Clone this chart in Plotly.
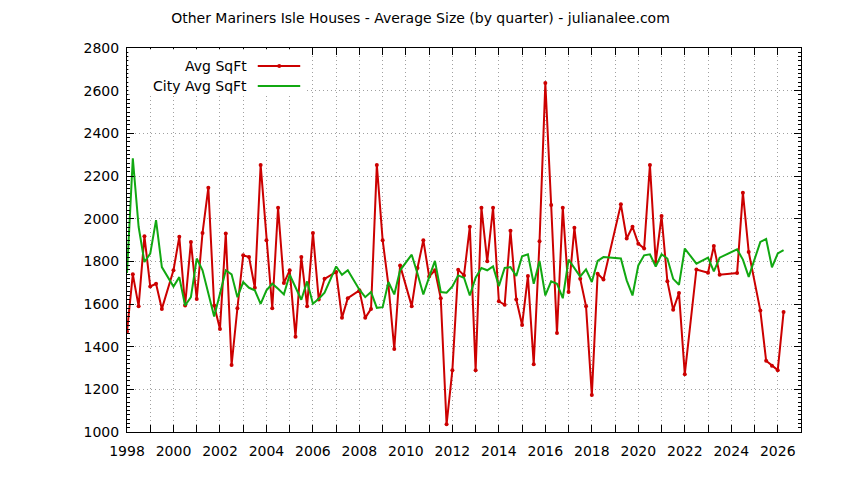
import plotly.graph_objects as go

# quarter start as decimal year (quarters with no sales are simply absent)
quarters = [
    1998.00, 1998.25, 1998.50, 1998.75, 1999.00, 1999.25, 1999.50,
    2000.00, 2000.25, 2000.50, 2000.75, 2001.00, 2001.25, 2001.50, 2001.75,
    2002.00, 2002.25, 2002.50, 2002.75, 2003.00, 2003.25, 2003.50, 2003.75,
    2004.00, 2004.25, 2004.50, 2004.75, 2005.00, 2005.25, 2005.50, 2005.75,
    2006.00, 2006.25, 2006.50, 2007.00, 2007.25, 2007.50,
    2008.00, 2008.25, 2008.50, 2008.75, 2009.00, 2009.25, 2009.50, 2009.75,
    2010.25, 2010.50, 2010.75, 2011.00, 2011.25, 2011.50, 2011.75,
    2012.00, 2012.25, 2012.50, 2012.75, 2013.00, 2013.25, 2013.50, 2013.75,
    2014.00, 2014.25, 2014.50, 2014.75, 2015.00, 2015.25, 2015.50, 2015.75,
    2016.00, 2016.25, 2016.50, 2016.75, 2017.00, 2017.25, 2017.50, 2017.75,
    2018.00, 2018.25, 2018.50, 2019.25, 2019.50, 2019.75,
    2020.00, 2020.25, 2020.50, 2020.75, 2021.00, 2021.25, 2021.50, 2021.75,
    2022.00, 2022.50, 2023.00, 2023.25, 2023.50, 2024.25, 2024.50, 2024.75,
    2025.25, 2025.50, 2025.75, 2026.00, 2026.25,
]

avg_sqft = [
    1471, 1739, 1590, 1918, 1682, 1695, 1577,
    1758, 1915, 1593, 1891, 1624, 1933, 2145, 1593,
    1483, 1930, 1314, 1580, 1828, 1820, 1676, 2252,
    1899, 1580, 2051, 1698, 1758, 1447, 1820, 1590,
    1933, 1621, 1718, 1750, 1535, 1627,
    1664, 1535, 1577, 2252, 1899, 1687, 1389, 1781,
    1590, 1769, 1899, 1729, 1758, 1627, 1036,
    1290, 1761, 1734, 1962, 1290, 2051, 1800, 2051,
    1613, 1596, 1943, 1621, 1502, 1731, 1318, 1894,
    2636, 2064, 1464, 2051, 1656, 1957, 1718, 1590,
    1173, 1742, 1715, 2067, 1907, 1962,
    1883, 1860, 2252, 1797, 2012, 1707, 1573, 1651,
    1271, 1762, 1747, 1872, 1737, 1745, 2122, 1844,
    1569, 1334, 1311, 1290, 1562,
]

city_avg_sqft = [
    1745, 2283, 1962, 1797, 1836, 1993, 1773,
    1682, 1726, 1593, 1632, 1813, 1758, 1648, 1541,
    1648, 1758, 1739, 1632, 1703, 1676, 1664, 1601,
    1664, 1695, 1671, 1645, 1737, 1679, 1620, 1706,
    1601, 1624, 1653, 1776, 1737, 1758,
    1667, 1632, 1656, 1582, 1585, 1703, 1645, 1758,
    1831, 1742, 1645, 1726, 1802, 1656, 1653,
    1682, 1734, 1723, 1640, 1723, 1769, 1758, 1776,
    1684, 1769, 1773, 1731, 1824, 1833, 1695, 1802,
    1640, 1706, 1695, 1627, 1808, 1769, 1729, 1762,
    1703, 1802, 1820, 1813, 1711, 1640,
    1781, 1828, 1833, 1776, 1833, 1813, 1718, 1690,
    1860, 1789, 1817, 1753, 1817, 1856, 1808, 1727,
    1891, 1905, 1772, 1837, 1853,
]

RED = "#cc0000"
GREEN = "#11a811"
FONT = "DejaVu Sans"
GRID = "#a0a0a0"

fig = go.Figure()
fig.add_trace(go.Scatter(x=quarters, y=avg_sqft, name="Avg SqFt", mode="lines+markers",
                         line=dict(color=RED, width=2), marker=dict(color=RED, size=4)))
fig.add_trace(go.Scatter(x=quarters, y=city_avg_sqft, name="City Avg SqFt", mode="lines",
                         line=dict(color=GREEN, width=2)))

axis_common = dict(
    showline=True, linecolor="black", linewidth=1, mirror="allticks",
    ticks="inside", tickcolor="black", zeroline=False,
    showgrid=True, gridcolor=GRID, gridwidth=1, griddash="1px,3px",
    tickfont=dict(family=FONT, size=14, color="black"),
)

fig.update_xaxes(range=[1998, 2027], tick0=1998, dtick=2, ticklen=7,
                 ticklabelstandoff=6,
                 minor=dict(dtick=1, ticks="inside", ticklen=7, tickcolor="black",
                            showgrid=True, gridcolor=GRID, griddash="1px,3px"),
                 **axis_common)
fig.update_yaxes(range=[1000, 2800], tick0=1000, dtick=200, ticklen=7,
                 ticklabelstandoff=4,
                 minor=dict(dtick=20, ticks="inside", ticklen=3, tickcolor="black",
                            showgrid=False),
                 **axis_common)

# gnuplot-style key: text on the left, sample on the right, white box over the grid
fig.add_shape(type="rect", xref="paper", yref="paper", x0=0.002, x1=0.265, y0=0.878, y1=0.997,
              fillcolor="white", line=dict(width=0), layer="above")
key_rows = [("Avg SqFt", RED, 0.953, True), ("City Avg SqFt", GREEN, 0.901, False)]
for label, color, ky, dot in key_rows:
    fig.add_annotation(text=label, xref="paper", yref="paper", x=0.181, y=ky,
                       xanchor="right", yanchor="middle", showarrow=False,
                       font=dict(family=FONT, size=14, color="black"))
    fig.add_shape(type="line", xref="paper", yref="paper", x0=0.194, x1=0.257, y0=ky, y1=ky,
                  line=dict(color=color, width=2), layer="above")
    if dot:
        fig.add_shape(type="circle", xref="paper", yref="paper",
                      x0=0.2259 - 0.0030, x1=0.2259 + 0.0030,
                      y0=ky - 0.0052, y1=ky + 0.0052,
                      fillcolor=color, line=dict(color=color, width=0), layer="above")

# page body has an 8px margin, so the figure is a little smaller than the window
fig.update_layout(
    width=836, height=472,
    margin=dict(l=119, r=43, t=40, b=48),
    paper_bgcolor="white", plot_bgcolor="white",
    showlegend=False,
    title=dict(text="Other Mariners Isle Houses - Average Size (by quarter) - julianalee.com",
               x=0.4934, xanchor="center", y=0.979, yanchor="middle",
               font=dict(family=FONT, size=14, color="black")),
)

fig.write_html("out.html", config={"displayModeBar": False})
